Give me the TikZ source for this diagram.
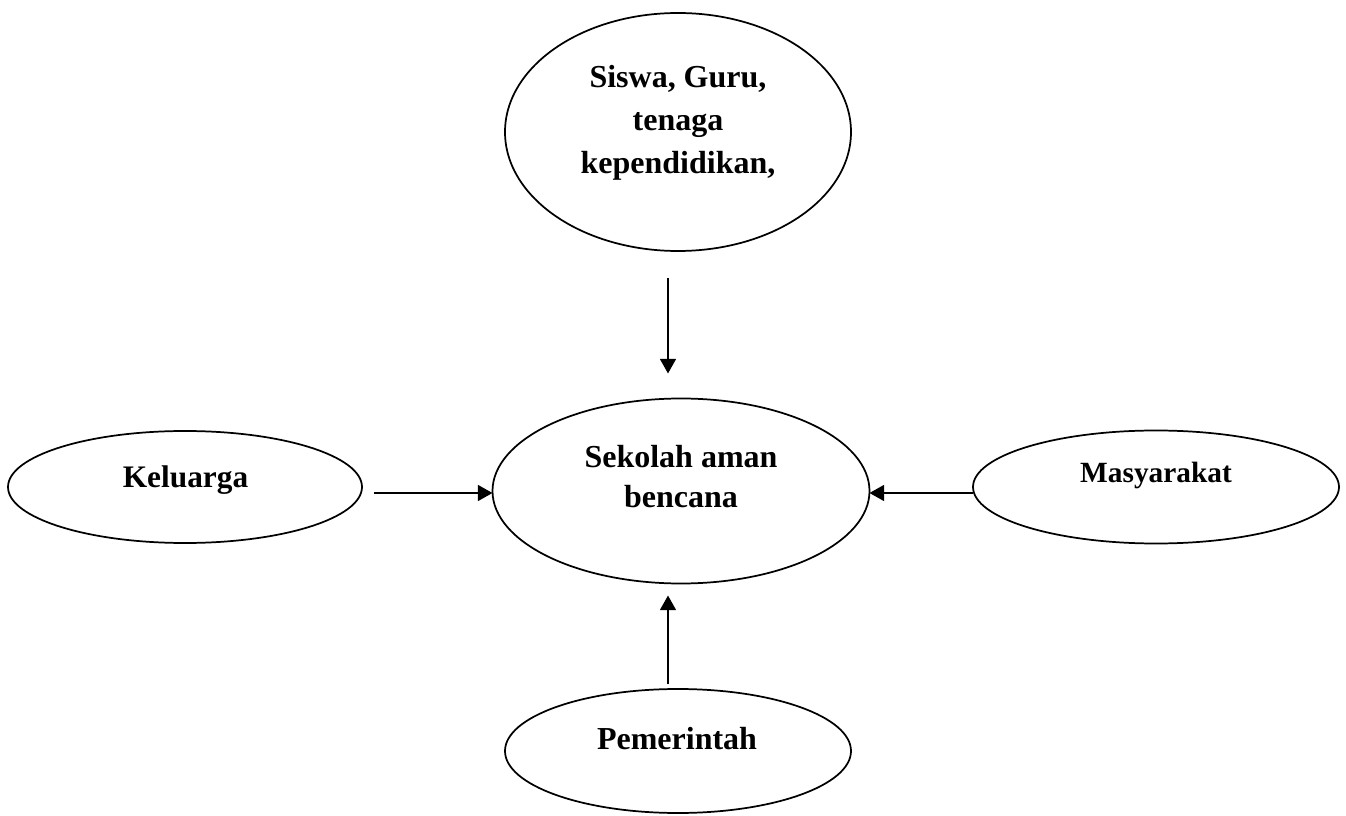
\documentclass[tikz,border=0pt]{standalone}
\usepackage{fontspec}
\setmainfont{Liberation Serif}
\usetikzlibrary{shapes.geometric,arrows.meta}
\begin{document}
\begin{tikzpicture}[x=0.75pt,y=-0.75pt,
  oval/.style={ellipse, draw, line width=1.3pt, inner sep=0pt, outer sep=0pt},
  lbl/.style={anchor=base, inner sep=0pt, align=center, font=\bfseries\fontsize{24}{32.25}\selectfont},
  arr/.style={line width=1.3pt, -{Triangle[length=11pt,width=12pt]}}]
\useasboundingbox (0,0) rectangle (1346,816);
% ellipses
\node[oval, minimum width=259.5pt, minimum height=178.5pt] (top) at (678,132) {};
\node[oval, minimum width=282.75pt, minimum height=138.75pt] (mid) at (681,491) {};
\node[oval, minimum width=265.5pt, minimum height=84pt] (kel) at (185,487) {};
\node[oval, minimum width=274.5pt, minimum height=84.75pt] (mas) at (1156,487) {};
\node[oval, minimum width=259.5pt, minimum height=93pt] (pem) at (678,751) {};
% texts (base anchor = baseline of the last line)
\node[lbl] (ttop) at (678,174) {Siswa, Guru,\\tenaga\\kependidikan,};
\node[lbl, font=\bfseries\fontsize{24}{30.75}\selectfont] (tmid) at (681,508) {Sekolah aman\\bencana};
\node[lbl, font=\bfseries\fontsize{23.5}{28}\selectfont] (tkel) at (185.5,487) {Keluarga};
\node[lbl, font=\bfseries\fontsize{22}{26}\selectfont] (tmas) at (1156,483) {Masyarakat};
\node[lbl] (tpem) at (677,749) {Pemerintah};
% connectors
\draw[arr, shorten <=20.25pt, shorten >=18.75pt] ([xshift=-7.5pt]top.south) -- ([xshift=-7.5pt]top.south |- mid.north);
\draw[arr, shorten <=3.75pt, shorten >=9pt] ([xshift=-7.5pt]pem.north) -- ([xshift=-7.5pt]pem.north |- mid.south);
\draw[arr, shorten <=9pt] ([yshift=-1.5pt]kel.east |- mid.west) -- ([yshift=-1.5pt]mid.west);
\draw[arr] ([yshift=-1.5pt]mas.west |- mid.east) -- ([yshift=-1.5pt]mid.east);
\end{tikzpicture}
\end{document}
